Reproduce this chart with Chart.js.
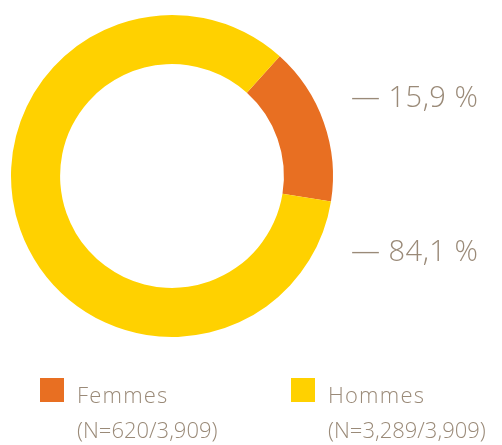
<!DOCTYPE html>
<html>
<head>
<meta charset="utf-8">
<script src="https://cdn.jsdelivr.net/npm/chart.js@4"></script>
<style>
  body { margin: 0; background: #fff; }
  canvas { display: block; }
</style>
</head>
<body>
<canvas id="graficoGenre" width="502" height="445"></canvas>
<script>
const categorias = ['Femmes', 'Hommes']
const valores = [620, 3289]
const cores = ['#E86F22', '#FFD100']
const total = valores.reduce((a, b) => a + b, 0)

const corTexto = '#9A8A78'
const fonte = '"Open Sans", Lato, sans-serif'

function formataPct (v) {
  return (v / total * 100).toFixed(1).replace('.', ',') + ' %'
}

function formataN (v) {
  return v.toLocaleString('en-US')
}

// labels on the right + legend under the ring
const rotulos = {
  id: 'rotulos',
  afterDraw (grafico) {
    const ctx = grafico.ctx
    ctx.save()
    ctx.fillStyle = corTexto
    ctx.textBaseline = 'alphabetic'
    ctx.textAlign = 'left'

    ctx.font = '300 29px ' + fonte
    ctx.letterSpacing = '0.5px'
    ctx.fillText('— ' + formataPct(valores[0]), 351, 107)
    ctx.fillText('— ' + formataPct(valores[1]), 351, 261)

    const xs = [40, 291]
    categorias.forEach((cat, i) => {
      ctx.fillStyle = cores[i]
      ctx.fillRect(xs[i], 378, 24, 24)
      ctx.fillStyle = corTexto
      ctx.font = '300 22px ' + fonte
      ctx.letterSpacing = '1.2px'
      ctx.fillText(cat, xs[i] + 37, 403)
      ctx.letterSpacing = '0px'
      ctx.fillText('(N=' + formataN(valores[i]) + '/' + formataN(total) + ')', xs[i] + 37, 438)
    })
    ctx.restore()
  }
}

const graficoGenre = document.getElementById('graficoGenre')
new Chart(graficoGenre, {
  type: 'doughnut',
  data: {
    labels: categorias,
    datasets: [{
      data: valores,
      backgroundColor: cores,
      borderWidth: 0
    }]
  },
  options: {
    responsive: false,
    animation: false,
    rotation: 42,
    cutout: '69.5%',
    layout: { padding: { left: 11, top: 15, right: 169, bottom: 108 } },
    plugins: {
      legend: { display: false },
      tooltip: { enabled: false }
    }
  },
  plugins: [rotulos]
})
</script>
</body>
</html>
